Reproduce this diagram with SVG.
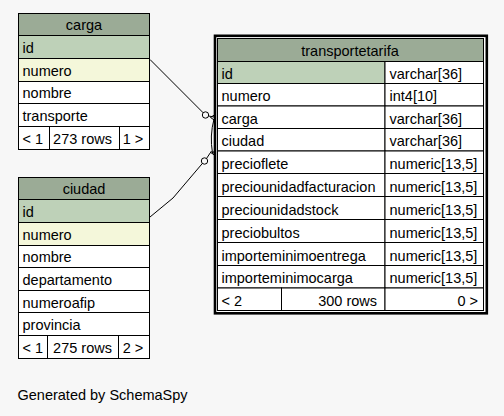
<svg xmlns="http://www.w3.org/2000/svg" width="504" height="416" viewBox="0 0 504 416">
<style>
text{font-family:"Liberation Sans",Arial,sans-serif;font-size:14.5px;fill:#000}
.c{stroke:#000;stroke-width:1;fill:#fff}
.h{fill:#9bab96}
.pk{fill:#bed1b8}
.ix{fill:#f4f7da}
.m{text-anchor:middle}
.e{text-anchor:end}
.ln{fill:none;stroke:#000;stroke-width:1}
</style>
<rect width="504" height="416" fill="#f7f7f7"/>
<g id="connectors">
<path class="ln" d="M150,59.5 L203.2,112.8"/>
<circle class="ln" cx="205.5" cy="115" r="3.2"/>
<path class="ln" d="M208.5,116 L217,117.5 M210.5,117.5 L216.5,113.5 M210.5,117.5 L216.5,121.5 M214,119 Q209.5,136 212.5,153"/>
<path class="ln" d="M150,217 L173,198 L202.5,163.3"/>
<circle class="ln" cx="204.5" cy="161" r="3.2"/>
<path class="ln" d="M206.5,158.5 L211.5,151 M211.5,153 L217,150 M211.5,153 L217,157 M211.5,153 L217,153"/>
</g>
<g id="carga">
<rect class="c h" x="18.5" y="13.5" width="131" height="22"/>
<text class="m" x="84" y="30">carga</text>
<rect class="c pk" x="18.5" y="35.5" width="131" height="23"/>
<text x="22.5" y="53">id</text>
<rect class="c ix" x="18.5" y="58.5" width="131" height="23"/>
<text x="22.5" y="76">numero</text>
<rect class="c" x="18.5" y="81.5" width="131" height="22"/>
<text x="22.5" y="98">nombre</text>
<rect class="c" x="18.5" y="103.5" width="131" height="23"/>
<text x="22.5" y="121">transporte</text>
<rect class="c" x="18.5" y="126.5" width="31" height="23"/>
<rect class="c" x="49.5" y="126.5" width="70" height="23"/>
<rect class="c" x="119.5" y="126.5" width="30" height="23"/>
<text x="22.5" y="144">&lt; 1</text>
<text class="m" x="82.5" y="144">273 rows</text>
<text class="m" x="133" y="144">1 &gt;</text>
</g>
<g id="ciudad">
<rect class="c h" x="18.5" y="177.5" width="131" height="22"/>
<text class="m" x="84" y="194">ciudad</text>
<rect class="c pk" x="18.5" y="199.5" width="131" height="23"/>
<text x="22.5" y="217">id</text>
<rect class="c ix" x="18.5" y="222.5" width="131" height="23"/>
<text x="22.5" y="240">numero</text>
<rect class="c" x="18.5" y="245.5" width="131" height="22"/>
<text x="22.5" y="262">nombre</text>
<rect class="c" x="18.5" y="267.5" width="131" height="23"/>
<text x="22.5" y="285">departamento</text>
<rect class="c" x="18.5" y="290.5" width="131" height="22"/>
<text x="22.5" y="307.5">numeroafip</text>
<rect class="c" x="18.5" y="312.5" width="131" height="23"/>
<text x="22.5" y="330">provincia</text>
<rect class="c" x="18.5" y="335.5" width="29" height="23"/>
<rect class="c" x="47.5" y="335.5" width="71" height="23"/>
<rect class="c" x="118.5" y="335.5" width="31" height="23"/>
<text x="22.5" y="353">&lt; 1</text>
<text class="m" x="82.5" y="353">275 rows</text>
<text class="m" x="133" y="353">2 &gt;</text>
</g>
<g id="transportetarifa">
<rect x="215" y="35.8" width="271.8" height="277.5" fill="#fff" stroke="#000" stroke-width="2.6"/>
<rect class="c h" x="217.5" y="38.5" width="266" height="23"/>
<text class="m" x="350" y="56">transportetarifa</text>
<rect class="c pk" x="217.5" y="61.5" width="167.5" height="22"/>
<rect class="c" x="385" y="61.5" width="98.5" height="22"/>
<text x="221.5" y="78.5">id</text><text x="389.5" y="78.5">varchar[36]</text>
<rect class="c" x="217.5" y="83.5" width="167.5" height="22.5"/>
<rect class="c" x="385" y="83.5" width="98.5" height="22.5"/>
<text x="221.5" y="101">numero</text><text x="389.5" y="101">int4[10]</text>
<rect class="c" x="217.5" y="106" width="167.5" height="22.5"/>
<rect class="c" x="385" y="106" width="98.5" height="22.5"/>
<text x="221.5" y="123.5">carga</text><text x="389.5" y="123.5">varchar[36]</text>
<rect class="c" x="217.5" y="128.5" width="167.5" height="22.5"/>
<rect class="c" x="385" y="128.5" width="98.5" height="22.5"/>
<text x="221.5" y="146">ciudad</text><text x="389.5" y="146">varchar[36]</text>
<rect class="c" x="217.5" y="151" width="167.5" height="22.5"/>
<rect class="c" x="385" y="151" width="98.5" height="22.5"/>
<text x="221.5" y="168.5">precioflete</text><text x="389.5" y="168.5">numeric[13,5]</text>
<rect class="c" x="217.5" y="173.5" width="167.5" height="23"/>
<rect class="c" x="385" y="173.5" width="98.5" height="23"/>
<text x="221.5" y="191.5">preciounidadfacturacion</text><text x="389.5" y="191.5">numeric[13,5]</text>
<rect class="c" x="217.5" y="196.5" width="167.5" height="23"/>
<rect class="c" x="385" y="196.5" width="98.5" height="23"/>
<text x="221.5" y="214.5">preciounidadstock</text><text x="389.5" y="214.5">numeric[13,5]</text>
<rect class="c" x="217.5" y="219.5" width="167.5" height="23"/>
<rect class="c" x="385" y="219.5" width="98.5" height="23"/>
<text x="221.5" y="237.5">preciobultos</text><text x="389.5" y="237.5">numeric[13,5]</text>
<rect class="c" x="217.5" y="242.5" width="167.5" height="23"/>
<rect class="c" x="385" y="242.5" width="98.5" height="23"/>
<text x="221.5" y="260.5">importeminimoentrega</text><text x="389.5" y="260.5">numeric[13,5]</text>
<rect class="c" x="217.5" y="265.5" width="167.5" height="22.5"/>
<rect class="c" x="385" y="265.5" width="98.5" height="22.5"/>
<text x="221.5" y="283">importeminimocarga</text><text x="389.5" y="283">numeric[13,5]</text>
<rect class="c" x="217.5" y="288" width="64" height="22.5"/>
<rect class="c" x="281.5" y="288" width="103.5" height="22.5"/>
<rect class="c" x="385" y="288" width="98.5" height="22.5"/>
<text x="221.5" y="305.5">&lt; 2</text>
<text class="e" x="377" y="305.5">300 rows</text>
<text class="e" x="478" y="305.5">0 &gt;</text>
</g>
<text x="17.5" y="400">Generated by SchemaSpy</text>
</svg>
